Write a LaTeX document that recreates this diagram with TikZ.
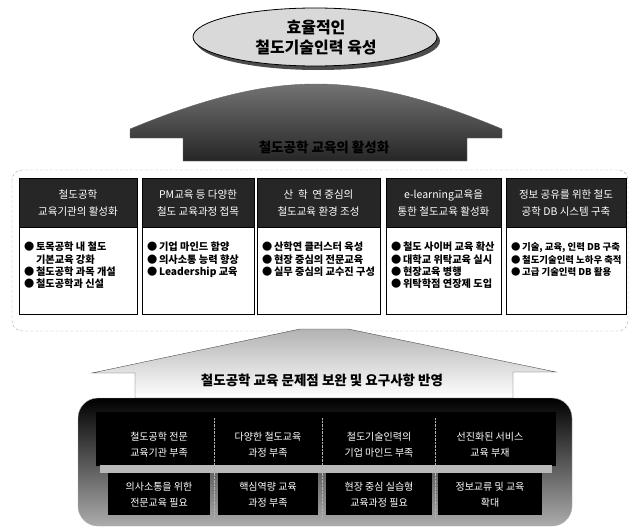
\documentclass[tikz,border=0pt]{standalone}
\usepackage{fontspec}
\setmainfont{Noto Sans CJK KR}
\usetikzlibrary{shapes.geometric}
\tikzset{
  hdr/.style={draw=black, fill=black!85, text=white},
  bodybox/.style={draw=black, fill=white},
  hdrtxt/.style={text=white, align=center, font=\fontsize{10.5}{17}\selectfont, inner sep=0pt},
  bodytxt/.style={anchor=north west, inner sep=0pt, font=\fontsize{10.2}{12.3}\selectfont\bfseries},
  celltxt/.style={text=white, align=center, font=\fontsize{10}{16}\selectfont, inner sep=0pt},
}
\newcommand{\blist}[1]{\begin{tabular}{@{}l@{\,}l@{}}#1\end{tabular}}
\begin{document}
\begin{tikzpicture}[x=1pt,y=-1pt]
\useasboundingbox (0,0) rectangle (632,530);
% ellipse
\fill[black!70] (318,41) ellipse [x radius=122, y radius=29];
\node[ellipse, draw=black, thick, fill=gray!30, minimum width=244pt, minimum height=58pt, inner sep=0pt] (goal) at (315,37) {};
\node[align=center, font=\fontsize{16}{20}\selectfont\bfseries] (goaltxt) at (316,38) {효율적인\\철도기술인력 육성};
% upper arrow
\shade[top color=black!55, bottom color=black!85, draw=black!60]
  (183,161) -- (183,138) -- (130,138) -- (130,129)
  .. controls (205,98) and (262,84) .. (316,84)
  .. controls (370,84) and (428,98) .. (502,129)
  -- (502,138) -- (467,138) -- (467,161) -- cycle;
\node[font=\fontsize{13.5}{15}\selectfont\bfseries, text=black] (uplabel) at (324,147) {철도공학 교육의 활성화};
% middle container
\draw[gray!70, densely dashed, rounded corners=10pt] (12,170) rectangle (628,331);
% columns
\foreach \n/\a/\b in {1/19/137, 2/142/254, 3/257/380, 4/386/501, 5/506/626}{
  \draw[bodybox] (\a,227) rectangle (\b,314);
  \draw[hdr] (\a,178) rectangle (\b,227);
  \coordinate (h\n) at ({(\a+\b)/2},203);
  \coordinate (b\n) at (\a+5,242);
}
\node[hdrtxt] (t1) at (h1) {철도공학\\교육기관의 활성화};
\node[hdrtxt] (t2) at (h2) {PM교육 등 다양한\\철도 교육과정 접목};
\node[hdrtxt] (t3) at (h3) {산\ \ 학\ \ 연 중심의\\철도교육 환경 조성};
\node[hdrtxt] (t4) at (h4) {e-learning교육을\\통한 철도교육 활성화};
\node[hdrtxt] (t5) at (h5) {정보 공유를 위한 철도\\공학 DB 시스템 구축};
\node[bodytxt] (l1) at (b1) {\blist{● & 토목공학 내 철도\\ & 기본교육 강화\\● & 철도공학 과목 개설\\● & 철도공학과 신설}};
\node[bodytxt] (l2) at (b2) {\blist{● & 기업 마인드 함양\\● & 의사소통 능력 향상\\● & Leadership 교육}};
\node[bodytxt] (l3) at (b3) {\blist{● & 산학연 클러스터 육성\\● & 현장 중심의 전문교육\\● & 실무 중심의 교수진 구성}};
\node[bodytxt] (l4) at (b4) {\blist{● & 철도 사이버 교육 확산\\● & 대학교 위탁교육 실시\\● & 현장교육 병행\\● & 위탁학점 연장제 도입}};
\node[bodytxt, font=\fontsize{9.4}{12.3}\selectfont\bfseries] (l5) at (b5) {\blist{● & 기술, 교육, 인력 DB 구축\\● & 철도기술인력 노하우 축적\\● & 고급 기술인력 DB 활용}};
% lower arrow
\shade[top color=gray!60, bottom color=white, draw=black!70]
  (300,329) -- (92,373) -- (135,373) -- (135,398) -- (513,398) -- (513,372) -- (556,372) -- (348,329) -- cycle;
\node[font=\fontsize{13.5}{15}\selectfont\bfseries] (lowlabel) at (322,380) {철도공학 교육 문제점 보완 및 요구사항 반영};
% bottom panel
\shade[top color=black, bottom color=gray!65, draw=gray!60, rounded corners=20pt] (78,398) rectangle (572,526);
\fill[black] (96,412) rectangle (556,466);
\fill[gray!55] (100,465) rectangle (552,473);
\foreach \a/\b in {108/210, 218/318, 326/432, 438/542}{
  \fill[black] (\a,473) rectangle (\b,515);
}
\foreach \x in {214,322,435}{
  \draw[gray!60, densely dotted] (\x,418) -- (\x,518);
}
\node[celltxt] (p1) at (159,445) {철도공학 전문\\교육기관 부족};
\node[celltxt] (p2) at (268,445) {다양한 철도교육\\과정 부족};
\node[celltxt] (p3) at (379,445) {철도기술인력의\\기업 마인드 부족};
\node[celltxt] (p4) at (490,445) {선진화된 서비스\\교육 부재};
\node[celltxt] (q1) at (159,495) {의사소통을 위한\\전문교육 필요};
\node[celltxt] (q2) at (268,495) {핵심역량 교육\\과정 부족};
\node[celltxt] (q3) at (379,495) {현장 중심 실습형\\교육과정 필요};
\node[celltxt] (q4) at (490,495) {정보교류 및 교육\\확대};
\end{tikzpicture}
\end{document}
